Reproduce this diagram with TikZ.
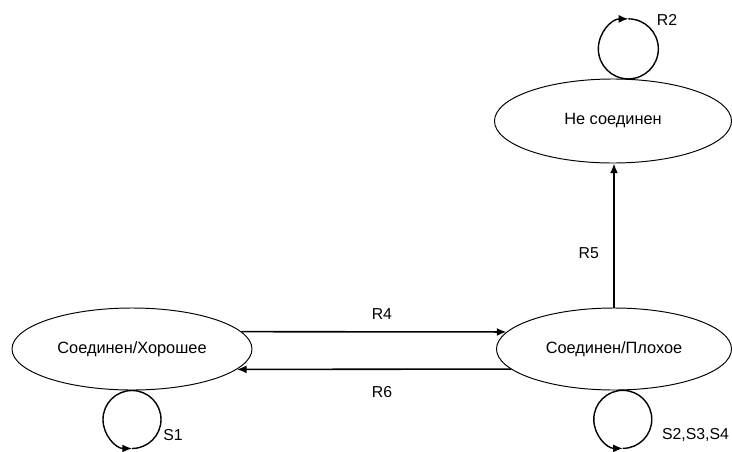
\documentclass[tikz,border=0pt]{standalone}
\usepackage{fontspec}
\setmainfont{Liberation Sans}
\usepackage{tikz}
\usetikzlibrary{shapes.geometric}
\usetikzlibrary{arrows.meta}

\begin{document}
\begin{tikzpicture}
 [ state/.style={ellipse, draw, line width=0.55pt, minimum width=4.8cm, minimum height=1.64cm, inner sep=0pt, font=\fontsize{9.3}{11}\selectfont}
 , trans/.style={line width=0.9pt, -{Latex[length=5.5pt, width=4.5pt]}}
 , ring/.style={line width=0.8pt}
 , ring tip/.style={ring, -{Latex[length=5.5pt, width=4.5pt]}}
 , lbl/.style={inner sep=1pt, font=\fontsize{9}{11}\selectfont}
 ]
  \useasboundingbox (0,0) rectangle (14.64,9.02);

  \node [state] (good) at (2.64,2.04) {Соединен/Хорошее};
  \node [state, minimum width=4.7cm] (bad) at (12.28,2.04) {Соединен/Плохое};
  \node [state, minimum width=4.74cm, minimum height=1.68cm] (off) at (12.26,6.6) {Не соединен};

  \draw [trans] (good.9) -- node [lbl, above=2mm, pos=0.53] {R4} (bad.171);
  \draw [trans] (bad.191) -- node [lbl, below=3mm, pos=0.47] {R6} (good.-11);
  \draw [trans] (bad.north) -- node [lbl, left=2.5mm, pos=0.38] {R5} (bad.north |- off.south);

  % self loops
  \draw [ring tip] (good.south) arc [start angle=90, end angle=270, radius=0.58];
  \draw [ring] (good.south) arc [start angle=90, end angle=-90, radius=0.58];
  \node [lbl] (s1) at (3.46,0.32) {S1};

  \draw [ring tip] (bad.-78) arc [start angle=90, end angle=270, radius=0.58];
  \draw [ring] (bad.-78) arc [start angle=90, end angle=-90, radius=0.58];
  \node [lbl, anchor=east] (s234) at (14.62,0.32) {S2,S3,S4};

  \draw [ring tip] (off.70) arc [start angle=270, end angle=90, radius=0.6];
  \draw [ring] (off.70) arc [start angle=270, end angle=450, radius=0.6];
  \node [lbl] (r2) at (13.34,8.62) {R2};
\end{tikzpicture}
\end{document}
